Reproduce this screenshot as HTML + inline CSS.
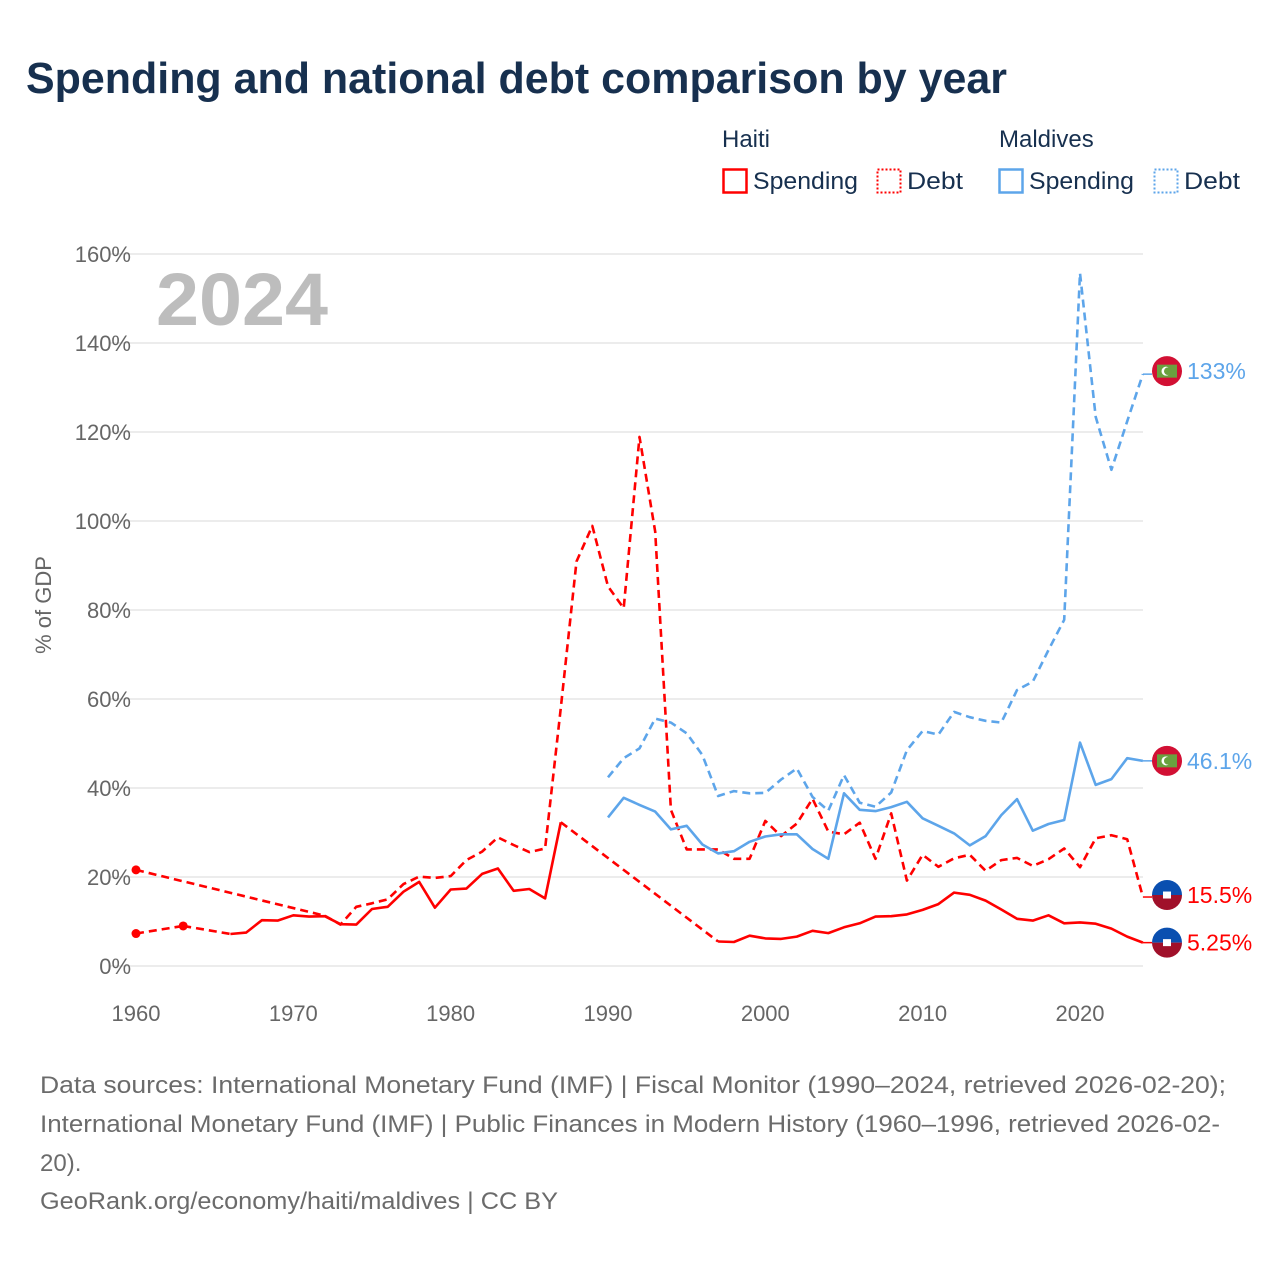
<!DOCTYPE html>
<html><head><meta charset="utf-8">
<style>
html,body{margin:0;padding:0;background:#fff;}
body{width:1280px;height:1280px;position:relative;overflow:hidden;font-family:"Liberation Sans",sans-serif;}
</style></head>
<body>
<svg id="chart" width="1280" height="1280" xmlns="http://www.w3.org/2000/svg" style="position:absolute;left:0;top:0">
  <text x="26" y="93" font-size="44" font-weight="bold" fill="#17304f" font-family="Liberation Sans, sans-serif" textLength="981" lengthAdjust="spacingAndGlyphs">Spending and national debt comparison by year</text>
  <g font-size="24" fill="#17304f" font-family="Liberation Sans, sans-serif">
    <text x="722" y="147">Haiti</text>
    <rect x="723.5" y="169.5" width="23" height="23" fill="none" stroke="#ff0000" stroke-width="2.5"/>
    <text x="753" y="189" textLength="105" lengthAdjust="spacingAndGlyphs">Spending</text>
    <rect x="877.5" y="169.5" width="23" height="23" fill="none" stroke="#ff0000" stroke-width="2" stroke-dasharray="2,2"/>
    <text x="907" y="189" textLength="56" lengthAdjust="spacingAndGlyphs">Debt</text>
    <text x="999" y="147">Maldives</text>
    <rect x="999.5" y="169.5" width="23" height="23" fill="none" stroke="#5da5ea" stroke-width="2.5"/>
    <text x="1029" y="189" textLength="105" lengthAdjust="spacingAndGlyphs">Spending</text>
    <rect x="1154.5" y="169.5" width="23" height="23" fill="none" stroke="#5da5ea" stroke-width="2" stroke-dasharray="2,2"/>
    <text x="1184" y="189" textLength="56" lengthAdjust="spacingAndGlyphs">Debt</text>
  </g>
  <g id="grid"></g>
  <g id="yticks" font-size="22" fill="#666" font-family="Liberation Sans, sans-serif"></g>
  <g id="xticks" font-size="22" fill="#666" font-family="Liberation Sans, sans-serif"></g>
  <text x="156" y="325" font-size="74" font-weight="bold" fill="#bdbdbd" font-family="Liberation Sans, sans-serif" textLength="172" lengthAdjust="spacingAndGlyphs">2024</text>
  <text transform="translate(51,605) rotate(-90)" text-anchor="middle" font-size="22" fill="#666" font-family="Liberation Sans, sans-serif">% of GDP</text>
  <g id="series"></g>
  <g id="endlabels"></g>
  <g font-size="24" fill="#6b6b6b" font-family="Liberation Sans, sans-serif">
    <text x="40" y="1093" textLength="1186" lengthAdjust="spacingAndGlyphs">Data sources: International Monetary Fund (IMF) | Fiscal Monitor (1990–2024, retrieved 2026-02-20);</text>
    <text x="40" y="1132" textLength="1180" lengthAdjust="spacingAndGlyphs">International Monetary Fund (IMF) | Public Finances in Modern History (1960–1996, retrieved 2026-02-</text>
    <text x="40" y="1171">20).</text>
    <text x="40" y="1209" textLength="518" lengthAdjust="spacingAndGlyphs">GeoRank.org/economy/haiti/maldives | CC BY</text>
  </g>
</svg>
<script>
const yTicks = [0,20,40,60,80,100,120,140,160];
const xTicks = [1960,1970,1980,1990,2000,2010,2020];
const haitiStart = 1960;
const haitiSpending = [7.3,null,null,9.0,null,null,7.2,7.5,10.3,10.2,11.4,11.1,11.2,9.4,9.3,12.8,13.3,16.7,18.9,13.1,17.2,17.4,20.7,21.9,16.9,17.3,15.2,32.3,null,null,null,null,null,null,null,null,null,5.5,5.4,6.8,6.2,6.1,6.6,7.9,7.4,8.7,9.6,11.1,11.2,11.6,12.6,13.9,16.5,16.0,14.7,12.7,10.6,10.2,11.4,9.6,9.8,9.5,8.4,6.6,5.25];
const haitiDebt = [21.6,null,null,null,null,null,null,null,null,null,null,null,11.3,9.3,13.3,14.1,15.0,18.4,20.1,19.8,20.2,23.8,25.7,28.9,27.2,25.6,26.4,58,90.9,98.9,85.3,80.4,118.9,97.6,35.1,26.2,26.2,26.2,24.1,24.1,32.6,29.2,32.0,37.6,30.2,29.6,32.2,24.1,34.3,19.2,25.0,22.3,24.2,25.0,21.4,23.8,24.3,22.5,24.0,26.4,22.2,28.7,29.4,28.5,15.5];
const maldivesStart = 1990;
const maldivesSpending = [33.4,37.8,36.2,34.7,30.7,31.5,27.3,25.3,25.8,27.9,29.1,29.6,29.6,26.3,24.1,38.8,35.1,34.8,35.7,36.9,33.2,31.5,29.8,27.1,29.2,33.9,37.5,30.4,31.9,32.8,50.2,40.7,42.0,46.7,46.1];
const maldivesDebt = [42.4,46.7,48.9,55.6,54.7,52.3,47.4,38.2,39.3,38.8,38.9,41.9,44.4,38.0,34.9,42.9,36.7,35.8,39.0,48.5,52.8,52.0,57.1,55.9,55.1,54.7,62.0,63.9,71.0,77.8,155.7,123.4,111.5,122.4,133.0];
const endLabels = ["5.25%","15.5%","46.1%","133%"];

const NS="http://www.w3.org/2000/svg";
function X(yr){return 136 + (yr-1960)*15.733;}
function Y(v){return 966 - v*4.45;}
function mk(tag,attrs,parent){const e=document.createElementNS(NS,tag);for(const k in attrs)e.setAttribute(k,attrs[k]);parent.appendChild(e);return e;}

const grid=document.getElementById('grid'), yt=document.getElementById('yticks'), xt=document.getElementById('xticks');
yTicks.forEach(v=>{
  const l=mk('line',{x1:110,x2:1143,y1:Y(v),y2:Y(v),stroke:'#e6e6e6','stroke-width':1.5},grid);
  
  
  const t=mk('text',{x:131,y:Y(v)+8,'text-anchor':'end'},yt);
  t.textContent=v+'%';
  
  
});
xTicks.forEach(yr=>{
  const t=mk('text',{x:X(yr),y:1021,'text-anchor':'middle'},xt);
  t.textContent=String(yr);
  
  
});

const sg=document.getElementById('series');
function drawSeries(vals,start,color,dashed,name){
  const g=mk('g',{},sg);
  
  
  const pts=[];
  vals.forEach((v,i)=>{if(v!==null&&v!==undefined)pts.push([start+i,v]);});
  let seg=[];
  const flush=()=>{
    if(seg.length>1){
      const p=mk('path',{d:'M'+seg.map(q=>X(q[0]).toFixed(1)+','+Y(q[1]).toFixed(1)).join('L'),fill:'none',stroke:color,'stroke-width':2.6,'stroke-linejoin':'round','stroke-dasharray':dashed?'8,5':'none'},g);
      
      
    }
  };
  for(let i=0;i<pts.length;i++){
    if(i>0 && pts[i][0]-pts[i-1][0]>1){
      flush(); seg=[];
      const gp=mk('line',{x1:X(pts[i-1][0]),y1:Y(pts[i-1][1]),x2:X(pts[i][0]),y2:Y(pts[i][1]),stroke:color,'stroke-width':2.6,'stroke-dasharray':'8,5'},g);
      
      
    }
    seg.push(pts[i]);
  }
  flush();
  for(let i=0;i<pts.length;i++){
    const prev=i>0&&pts[i][0]-pts[i-1][0]===1, next=i<pts.length-1&&pts[i+1][0]-pts[i][0]===1;
    if(!prev&&!next){
      const c=mk('circle',{cx:X(pts[i][0]),cy:Y(pts[i][1]),r:4.5,fill:color},g);
      
      
    }
  }
  const last=pts[pts.length-1];
  const cn=mk('line',{x1:X(last[0]),y1:Y(last[1]),x2:1152,y2:Y(last[1]),stroke:color,'stroke-width':1.5},g);
  
  
  return last;
}
const hs=drawSeries(haitiSpending,haitiStart,'#ff0000',false,'haiti-spending');
const hd=drawSeries(haitiDebt,haitiStart,'#ff0000',true,'haiti-debt');
const ms=drawSeries(maldivesSpending,maldivesStart,'#5da5ea',false,'maldives-spending');
const md=drawSeries(maldivesDebt,maldivesStart,'#5da5ea',true,'maldives-debt');

const el=document.getElementById('endlabels');
function flag(country,y,color,label,name){
  const g=mk('g',{},el);
  
  
  const cx=1167;
  if(country==='mv'){
    mk('circle',{cx:cx,cy:y,r:15,fill:'#d21034'},g);
    mk('rect',{x:cx-10,y:y-6.5,width:20,height:13,fill:'#6aa13f'},g);
    mk('circle',{cx:cx-1,cy:y,r:4.5,fill:'#fff'},g);
    mk('circle',{cx:cx+0.8,cy:y,r:3.8,fill:'#6aa13f'},g);
  } else {
    mk('path',{d:`M${cx-15},${y} A15,15 0 0 1 ${cx+15},${y} Z`,fill:'#0a4fb0'},g);
    mk('path',{d:`M${cx-15},${y} A15,15 0 0 0 ${cx+15},${y} Z`,fill:'#a0102a'},g);
    mk('rect',{x:cx-4,y:y-3.5,width:8,height:7,fill:'#fff'},g);
  }
  const t=mk('text',{x:1187,y:y+8,'font-size':23,fill:color,'font-family':'Liberation Sans, sans-serif'},g);
  t.textContent=label;
}
flag('ht',Y(hs[1]),'#ff0000',endLabels[0],'end-label-haiti-spending');
flag('ht',Y(hd[1])-2,'#ff0000',endLabels[1],'end-label-haiti-debt');
flag('mv',Y(ms[1]),'#5da5ea',endLabels[2],'end-label-maldives-spending');
flag('mv',Y(md[1])-3,'#5da5ea',endLabels[3],'end-label-maldives-debt');
</script>
</body></html>
